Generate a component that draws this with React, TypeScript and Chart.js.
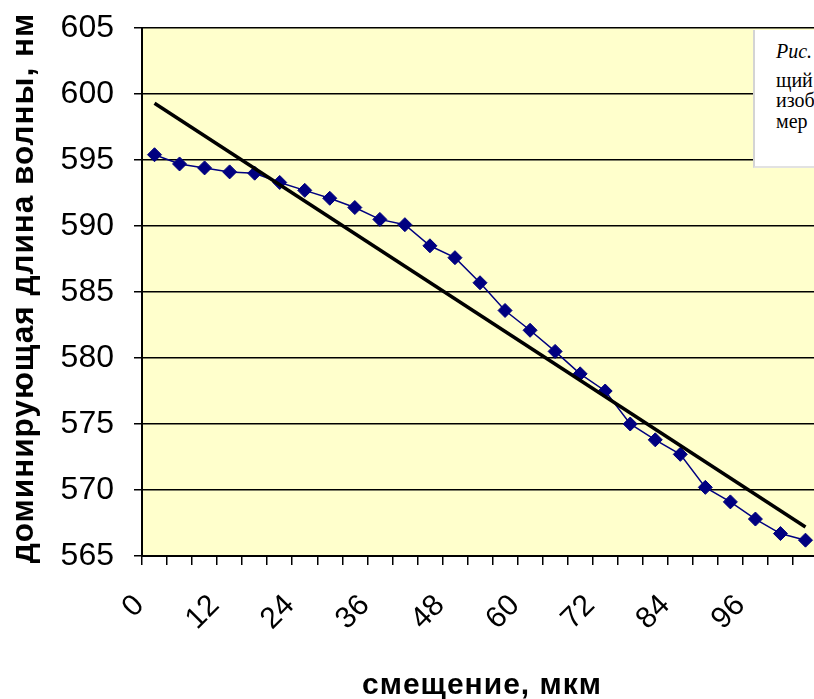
import { useEffect, useRef } from 'react';
import { Chart, registerables } from 'chart.js';

Chart.register(...registerables);

const categories = ['0', '4', '8', '12', '16', '20', '24', '28', '32', '36', '40', '44', '48', '52', '56', '60', '64', '68', '72', '76', '80', '84', '88', '92', '96', '100', '104'];
const shownLabels = ['0', '12', '24', '36', '48', '60', '72', '84', '96'];
const wavelength = [595.4, 594.7, 594.4, 594.1, 594.0, 593.3, 592.7, 592.1, 591.4, 590.5, 590.1, 588.5, 587.6, 585.7, 583.6, 582.1, 580.5, 578.8, 577.5, 575.0, 573.8, 572.7, 570.2, 569.1, 567.8, 566.7, 566.2];
const trendStart = 599.3;
const trendEnd = 567.2;
const xTitle = 'смещение, мкм';
const yTitle = 'доминирующая длина волны, нм';
const noteLines = ['Рис.', 'щий', 'изоб', 'мер'];

const trendLine = categories.map((_, i) => (i === 0 ? trendStart : i === categories.length - 1 ? trendEnd : null));

const customPlugin = {
  id: 'custom',
  beforeDraw(chart: any) {
    const { ctx, chartArea } = chart;
    ctx.save();
    ctx.fillStyle = '#FFFFCC';
    ctx.fillRect(chartArea.left, chartArea.top, chartArea.right - chartArea.left, chartArea.bottom - chartArea.top);
    ctx.restore();
  },
  afterDraw(chart: any) {
    const ctx = chart.ctx;
    ctx.save();
    ctx.letterSpacing = '1px';
    ctx.fillStyle = '#000';
    ctx.textAlign = 'center';
    ctx.textBaseline = 'middle';
    ctx.font = 'bold 30px "Liberation Sans", Arial, sans-serif';
    ctx.fillText(xTitle, 482, 686);
    ctx.font = 'bold 31.5px "Liberation Sans", Arial, sans-serif';
    ctx.translate(24, 288);
    ctx.rotate(-Math.PI / 2);
    ctx.fillText(yTitle, 0, 0);
    ctx.restore();
  },
};

export default function App() {
  const ref = useRef<HTMLCanvasElement>(null);
  useEffect(() => {
    document.body.style.margin = '0';
    const chart = new Chart(ref.current!, {
      type: 'line',
      data: {
        labels: categories,
        datasets: [
          {
            data: wavelength,
            borderColor: '#000080',
            backgroundColor: '#000080',
            borderWidth: 1.5,
            pointStyle: 'rectRot',
            pointRadius: 7,
            pointBorderWidth: 1,
            pointBorderColor: '#000080',
            tension: 0,
            order: 2,
          },
          {
            data: trendLine,
            borderColor: '#000',
            borderWidth: 3.5,
            pointRadius: 0,
            spanGaps: true,
            tension: 0,
            order: 1,
          },
        ],
      },
      options: {
        animation: false,
        responsive: false,
        layout: { padding: { top: 28, left: 0, right: 1, bottom: 0 } },
        plugins: { legend: { display: false }, tooltip: { enabled: false } },
        scales: {
          x: {
            offset: true,
            grid: { display: true, drawOnChartArea: false, drawTicks: true, tickLength: 9, offset: true, color: '#000', lineWidth: 1.5 },
            border: { display: true, color: '#000', width: 2 },
            ticks: {
              autoSkip: false,
              minRotation: 45,
              maxRotation: 45,
              padding: 23,
              labelOffset: -15,
              color: '#000',
              font: { family: '"Liberation Sans", Arial, sans-serif', size: 30 },
              callback: (_v: any, i: number) => (shownLabels.includes(categories[i]) ? categories[i] : ''),
            },
            afterFit: (scale: any) => {
              scale.height = 143;
              scale.paddingLeft = 0;
              scale.paddingRight = 0;
            },
          },
          y: {
            min: 565,
            max: 605,
            grid: { color: '#000', lineWidth: 1.5, tickLength: 8, tickColor: '#000' },
            border: { display: true, color: '#000', width: 2 },
            ticks: {
              stepSize: 5,
              padding: 20,
              color: '#000',
              font: { family: '"Liberation Sans", Arial, sans-serif', size: 32 },
            },
            afterFit: (scale: any) => {
              scale.width = 142;
              scale.paddingTop = 0;
              scale.paddingBottom = 0;
            },
          },
        },
      },
      plugins: [customPlugin],
    });
    return () => chart.destroy();
  }, []);

  return (
    <div style={{ position: 'absolute', left: 0, top: 0, width: 814, height: 699, overflow: 'hidden', background: '#fff' }}>
      <canvas ref={ref} width={826} height={699} style={{ width: 826, height: 699, display: 'block' }} />
      <div
        style={{
          position: 'absolute',
          left: 753,
          top: 30,
          width: 80,
          height: 136,
          background: '#fff',
          borderLeft: '2px solid #d4d4d4',
          borderBottom: '2px solid #e2e2e2',
          overflow: 'hidden',
          fontFamily: '"Liberation Serif", "Times New Roman", serif',
          fontSize: 20,
          color: '#000',
        }}
      >
        {noteLines.map((t, i) => (
          <div
            key={i}
            style={{
              position: 'absolute',
              left: 21,
              top: [10, 39, 59, 80][i],
              whiteSpace: 'nowrap',
              fontStyle: i === 0 ? 'italic' : 'normal',
              lineHeight: '22px',
            }}
          >
            {t}
          </div>
        ))}
      </div>
    </div>
  );
}
